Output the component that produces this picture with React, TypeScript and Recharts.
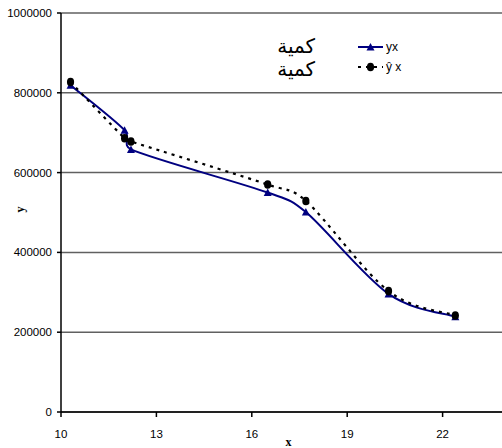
import { LineChart, Line, XAxis, YAxis, CartesianGrid, Legend } from 'recharts'

// x positions shared by both series
const xValues = [10.3, 12, 12.2, 16.5, 17.7, 20.3, 22.4]
// observed y
const yxValues = [819000, 706000, 658000, 550000, 501000, 296000, 239000]
// fitted y (ŷ)
const yHatValues = [827000, 686000, 678000, 570000, 529000, 303000, 242000]

const xTicks = [10, 13, 16, 19, 22]
const yTicks = [0, 200000, 400000, 600000, 800000, 1000000]

const seriesNames = ['yx', 'ŷ x']
const legendWords = ['كمية', 'كمية']

const NAVY = '#000080'
const tickFont = { fontFamily: '"Liberation Sans", Arial, sans-serif', fontSize: 11.5, fill: '#000' }

const data = xValues.map((x, i) => ({ x, yx: yxValues[i], yhat: yHatValues[i] }))

// spreadsheet-style smoothing: cardinal bezier, handles capped to half the segment
function smoothCurve(context: any) {
  let pts: number[][] = []
  return {
    areaStart() {},
    areaEnd() {},
    lineStart() { pts = [] },
    point(x: number, y: number) { pts.push([+x, +y]) },
    lineEnd() {
      const n = pts.length
      if (!n) return
      context.moveTo(pts[0][0], pts[0][1])
      const handle = (a: number[], b: number[], seg: number) => {
        let hx = (b[0] - a[0]) / 6
        let hy = (b[1] - a[1]) / 6
        const len = Math.hypot(hx, hy)
        const max = seg * 0.5
        if (len > max && len > 0) { hx *= max / len; hy *= max / len }
        return [hx, hy]
      }
      for (let i = 0; i < n - 1; i++) {
        const p0 = pts[i - 1] ?? pts[i]
        const p1 = pts[i]
        const p2 = pts[i + 1]
        const p3 = pts[i + 2] ?? pts[i + 1]
        const seg = Math.hypot(p2[0] - p1[0], p2[1] - p1[1])
        const h1 = handle(p0, p2, seg)
        const h2 = handle(p1, p3, seg)
        context.bezierCurveTo(p1[0] + h1[0], p1[1] + h1[1], p2[0] - h2[0], p2[1] - h2[1], p2[0], p2[1])
      }
    },
  }
}

function Triangle(props: any) {
  const { cx, cy } = props
  if (cx == null || cy == null) return null
  return <polygon points={`${cx - 4},${cy + 3.5} ${cx + 4},${cy + 3.5} ${cx},${cy - 4}`} fill={NAVY} />
}

function Blob(props: any) {
  const { cx, cy } = props
  if (cx == null || cy == null) return null
  return <ellipse cx={cx} cy={cy} rx={3.6} ry={4.3} fill="#000" />
}

function LegendBox() {
  return (
    <div style={{ position: 'relative', width: 140, height: 50 }}>
      {legendWords.map((w, i) => (
        <div
          key={i}
          style={{
            position: 'absolute', right: 85, top: 6 + i * 23,
            fontFamily: '"DejaVu Sans", sans-serif', fontSize: 20, lineHeight: '20px', direction: 'rtl',
          }}
        >
          {w}
        </div>
      ))}
      <svg style={{ position: 'absolute', left: 98, top: 12 }} width={26} height={10}>
        <line x1={0} y1={5} x2={25} y2={5} stroke={NAVY} strokeWidth={2} />
        <polygon points="8.5,8.5 16.5,8.5 12.5,1" fill={NAVY} />
      </svg>
      <svg style={{ position: 'absolute', left: 98, top: 32 }} width={26} height={10}>
        <line x1={0} y1={5} x2={25} y2={5} stroke="#000" strokeWidth={2.2} strokeDasharray="3 5" />
        <ellipse cx={12.5} cy={5} rx={3.6} ry={4.3} fill="#000" />
      </svg>
      {seriesNames.map((n, i) => (
        <div
          key={n}
          style={{
            position: 'absolute', left: 126, top: 9 + i * 20, whiteSpace: 'pre',
            fontFamily: '"Liberation Sans", Arial, sans-serif', fontSize: 12, lineHeight: '16px',
          }}
        >
          {n}
        </div>
      ))}
    </div>
  )
}

export default function App() {
  return (
    <div style={{ position: 'absolute', left: 0, top: 0, width: 502, height: 448, overflow: 'hidden', background: '#fff' }}>
      <LineChart width={540} height={448} data={data} margin={{ top: 13, right: 2, bottom: 0, left: 0 }}>
        <CartesianGrid vertical={false} stroke="#606060" strokeWidth={1.5} />
        <XAxis
          type="number"
          dataKey="x"
          domain={[10, 25]}
          ticks={xTicks}
          height={36}
          stroke="#000"
          strokeWidth={1.5}
          tickSize={5}
          tickMargin={13}
          tick={tickFont}
          label={{
            value: 'x', position: 'insideBottom', offset: 2, dx: -11,
            style: { fontFamily: '"Liberation Serif", serif', fontWeight: 'bold', fontSize: 12, fill: '#000' },
          }}
        />
        <YAxis
          type="number"
          domain={[0, 1000000]}
          ticks={yTicks}
          width={61}
          stroke="#000"
          strokeWidth={1.5}
          tickSize={4}
          tickMargin={5}
          tick={tickFont}
          label={{
            value: 'y', angle: -90, position: 'insideLeft', offset: 20,
            style: { fontFamily: '"Liberation Serif", serif', fontWeight: 'bold', fontSize: 12, fill: '#000' },
          }}
        />
        <Legend
          layout="vertical"
          align="center"
          verticalAlign="middle"
          content={() => <LegendBox />}
          wrapperStyle={{ position: 'absolute', left: 260, top: 30, width: 140, height: 50 }}
        />
        <Line
          type={smoothCurve as any}
          dataKey="yx"
          stroke={NAVY}
          strokeWidth={2}
          dot={<Triangle />}
          activeDot={false}
          isAnimationActive={false}
        />
        <Line
          type={smoothCurve as any}
          dataKey="yhat"
          stroke="#000"
          strokeWidth={2.2}
          strokeDasharray="3 5"
          dot={<Blob />}
          activeDot={false}
          isAnimationActive={false}
        />
      </LineChart>
    </div>
  )
}
